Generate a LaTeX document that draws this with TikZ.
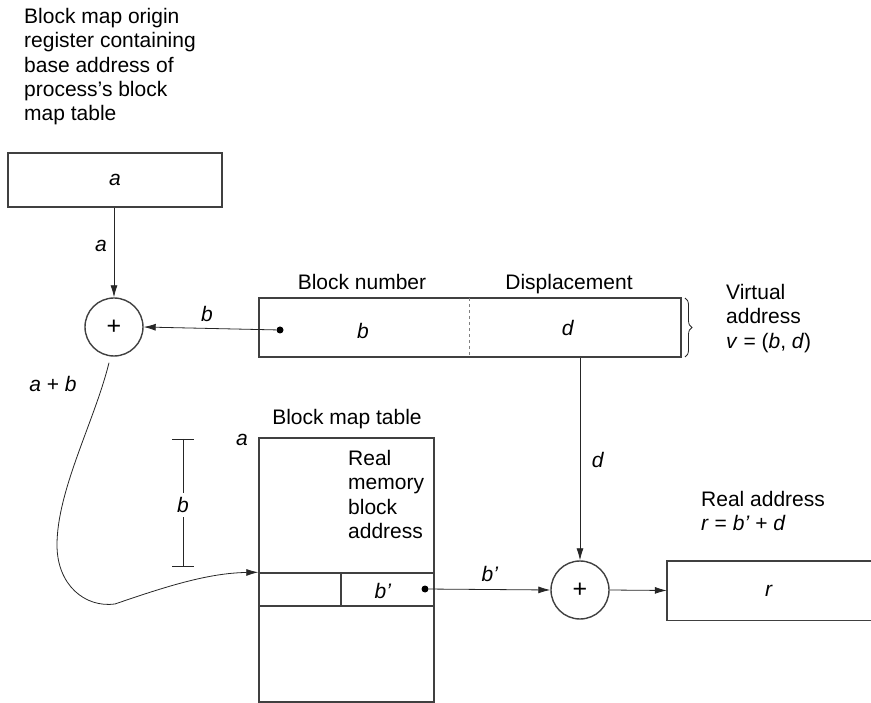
\documentclass[tikz,border=0pt]{standalone}
\usepackage{fontspec}
\setmainfont{Liberation Sans}
\usetikzlibrary{arrows.meta,decorations.pathreplacing,calc}
\begin{document}
\begin{tikzpicture}[x=1pt,y=-1pt,
  every node/.style={font=\fontsize{21}{24.3}\selectfont},
  boxline/.style={draw=black!75,line width=1.4pt},
  regbox/.style={boxline,rectangle,inner sep=0pt},
  adder/.style={draw=black!75,line width=1.4pt,circle,inner sep=0pt,minimum size=58pt,font=\fontsize{25}{25}\selectfont},
  dotmark/.style={circle,fill=black,inner sep=0pt,minimum size=7pt},
  arr/.style={draw=black!85,line width=0.8pt,-{Latex[length=12pt,width=7pt]}},
  thin/.style={draw=black!85,line width=0.8pt},
  lab/.style={inner sep=1pt},
  txt/.style={align=left,anchor=north west,inner sep=0pt}
]
\useasboundingbox (0,0) rectangle (871,703);

% top-left label
\node[txt] (toplab) at (24,8) {Block map origin\\register containing\\base address of\\process’s block\\map table};

% register
\node[regbox,minimum width=214pt,minimum height=54pt] (reg) at (115,180) {\textit{a}};

% adders
\node[adder] (add1) at (114,327) {+};
\node[adder] (add2) at (580,590) {+};

% virtual address box
\node[regbox,minimum width=422pt,minimum height=59pt] (va) at (470,327.5) {};
\draw[black!50,line width=0.8pt,dashed] (469,298) -- (469,357);
\node[dotmark] (dotb) at (280,330) {};
\node (vb) at (363,331) {\textit{b}};
\node (vd) at (568,328) {\textit{d}};
\node[anchor=base] (blocknum) at (362,290) {Block number};
\node[anchor=base] (displ) at (569,290) {Displacement};
\draw[thin,decorate,decoration={brace,amplitude=7pt}] (685,298) -- (685,357);
\node[txt] (valab) at (726,284) {Virtual\\address\\\textit{v} = (\textit{b}, \textit{d})};

% block map table
\node[regbox,minimum width=175pt,minimum height=264pt] (bmt) at (346.5,570) {};
\node[regbox,minimum width=175pt,minimum height=33pt] (row) at (346.5,589.5) {};
\draw[boxline] (341,573) -- (341,606);
\node (rowb) at (383,591) {\textit{b’}};
\node[dotmark] (dotbp) at (425,589) {};
\node[anchor=base] (bmtlab) at (347,425) {Block map table};
\node (bmta) at (242,440) {\textit{a}};
\node[txt] (rmlab) at (348,450) {Real\\memory\\block\\address};

% dimension b
\coordinate (dimtop) at (183,439);
\coordinate (dimbot) at (183,566);
\draw[thin] (dimtop) -- (dimbot);
\draw[thin] ($(dimtop)+(-11,0)$) -- +(22,0);
\draw[thin] ($(dimbot)+(-11,0)$) -- +(22,0);
\node[fill=white,inner sep=4pt] (dimlab) at (183,505) {\textit{b}};

% real address box
\node[minimum width=204pt,minimum height=59pt,inner sep=0pt] (rbox) at (769,590.5) {\textit{r}};
\draw[boxline] (rbox.north east) -- (rbox.north west) -- (rbox.south west) -- (rbox.south east);
\node[txt] (ralab) at (701,491) {Real address\\\textit{r} = \textit{b’} + \textit{d}};

% connectors
\draw[arr] (reg.south -| add1.north) -- (add1.north);
\node[lab] (la) at (101,246) {\textit{a}};
\draw[arr] (dotb) -- (add1.east);
\node[lab] (lb) at (207,314) {\textit{b}};
\node[lab] (lab) at (53,384) {\textit{a} + \textit{b}};
\draw[arr] (add2 |- va.south) -- (add2.north);
\node[lab] (ld) at (598,460) {\textit{d}};
\draw[arr] (dotbp) -- (add2.west);
\node[lab] (lbp) at (490,574) {\textit{b’}};
\draw[arr] (add2.east) -- (rbox.west);
\draw[arr] ($(add1.south)+(-5,6)$) .. controls (95,420) and (57,490) .. (57,545)
   .. controls (57,585) and (85,608) .. (115,604)
   .. controls (170,585) and (210,573) .. (row.north west);
\end{tikzpicture}
\end{document}
